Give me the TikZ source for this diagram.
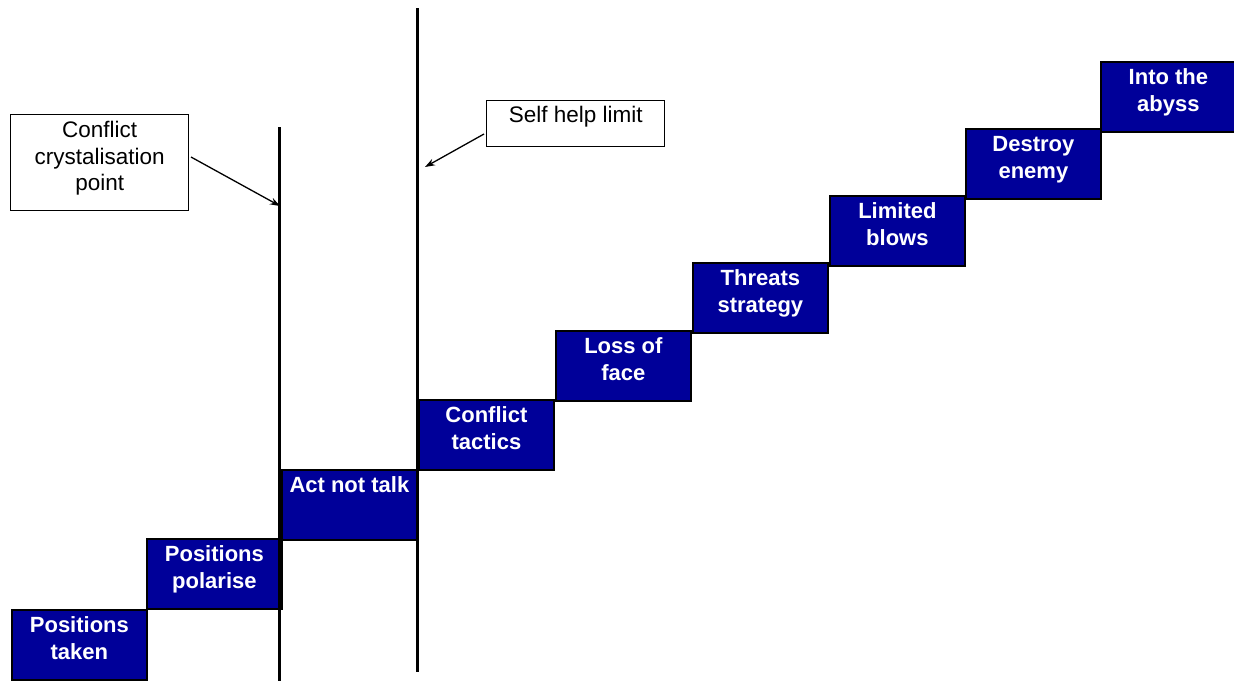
\documentclass[tikz,border=0pt]{standalone}
\usepackage{fontspec}
\setmainfont{Liberation Sans}
\usetikzlibrary{arrows.meta}
\definecolor{stepblue}{RGB}{0,0,153}
\newcommand{\steptext}[1]{\parbox[t][70pt][t]{135pt}{\centering\rule{0pt}{22.5pt}#1}}
\newcommand{\calltext}[3]{\parbox[t][#2pt][t]{178pt}{\centering\rule{0pt}{#3pt}#1}}
\tikzset{
  stepbox/.style={draw=black, line width=1.8pt, fill=stepblue, text=white,
    inner sep=0pt, anchor=north west, minimum width=135pt, minimum height=70pt,
    font=\fontsize{22}{27.5}\selectfont\bfseries},
  callout/.style={draw=black, line width=1.3pt, fill=white, inner sep=0pt,
    anchor=north west, font=\fontsize{22.5}{26.5}\selectfont},
  limitline/.style={line width=3pt},
  pointer/.style={line width=1.3pt, -{Stealth[length=10pt,width=7pt]}}
}
\begin{document}
\begin{tikzpicture}[x=1pt,y=-1pt]
\useasboundingbox (0,0) rectangle (1234,681);
% step boxes
\node[stepbox] (b1) at (11,609) {\steptext{Positions\\taken}};
\node[stepbox] (b2) at (146,538) {\steptext{Positions\\polarise}};
\node[stepbox] (b3) at (281,469) {\steptext{Act not talk}};
\node[stepbox] (b4) at (418,399) {\steptext{Conflict\\tactics}};
\node[stepbox] (b5) at (555,330) {\steptext{Loss of\\face}};
\node[stepbox] (b6) at (692,262) {\steptext{Threats\\strategy}};
\node[stepbox] (b7) at (829,195) {\steptext{Limited\\blows}};
\node[stepbox] (b8) at (965,128) {\steptext{Destroy\\enemy}};
\node[stepbox] (b9) at (1100,61) {\steptext{Into the\\abyss}};
% limit lines
\coordinate (l1t) at (279,127);
\coordinate (l1b) at (279,681);
\coordinate (l2t) at (417,8);
\coordinate (l2b) at (417,672);
\draw[limitline] (l1t) -- (l1b);
\draw[limitline] (l2t) -- (l2b);
% callouts
\node[callout] (c1) at (10,114) {\calltext{Conflict\\crystalisation\\point}{96}{23.3}};
\node[callout] (c2) at (486,100) {\calltext{Self help limit}{46}{22.3}};
\coordinate (a1s) at (191,157);
\coordinate (a1e) at (280,206);
\coordinate (a2s) at (484,134);
\coordinate (a2e) at (425,167);
\draw[pointer] (a1s) -- (a1e);
\draw[pointer] (a2s) -- (a2e);
\end{tikzpicture}
\end{document}
